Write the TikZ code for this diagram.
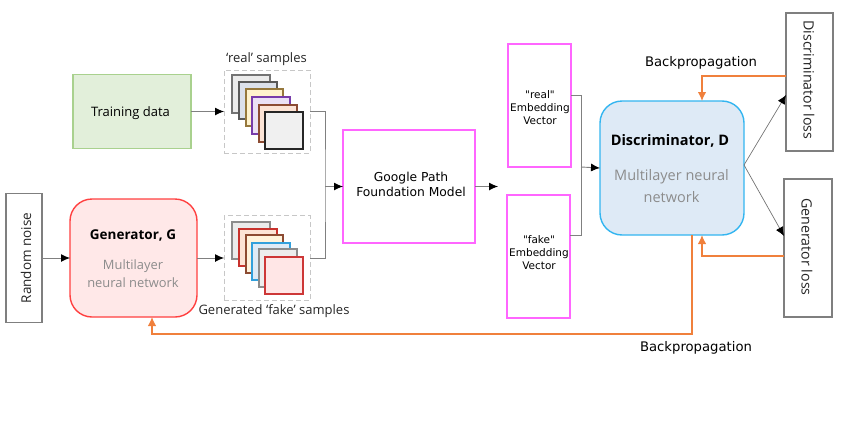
\documentclass[tikz,border=0pt]{standalone}
\usepackage{fontspec}
\setmainfont{Open Sans}
\newfontfamily\dejavu{DejaVu Sans}
\usetikzlibrary{arrows.meta}
\definecolor{orng}{HTML}{F0803C}
\definecolor{pinkb}{HTML}{FF66FF}
\definecolor{greyb}{HTML}{7F7F7F}
\definecolor{greytxt}{HTML}{8C8C8C}
\tikzset{
  box/.style={draw,outer sep=0pt,inner sep=0pt,anchor=center,align=center},
  lossbox/.style={box,draw=greyb,line width=1.4pt,fill=white,text=black!85},
  pinkbox/.style={box,draw=pinkb,line width=1.3pt,fill=white},
  netbox/.style={box,rounded corners=22pt,line width=1.4pt},
  frame/.style={box,draw=black!22,dash pattern=on 5pt off 3pt,line width=1pt},
  sheet/.style={box,line width=1.2pt},
  link/.style={draw=black!50,line width=0.9pt},
  arrowlink/.style={link,-{Latex[black,length=9pt,width=8pt]}},
  thinarrow/.style={draw=black!55,line width=0.7pt,-{Latex[black,length=9pt,width=8pt]}},
  back/.style={draw=orng,line width=1.3pt,-{Latex[orng,length=9pt,width=8.5pt]}},
  lbl/.style={inner sep=0pt,outer sep=0pt,font=\fontsize{13}{15}\selectfont},
  djl/.style={inner sep=0pt,outer sep=0pt,font=\dejavu\fontsize{12.3}{14.5}\selectfont,align=center},
  djb/.style={inner sep=0pt,outer sep=0pt,font=\dejavu\fontsize{13.2}{15}\selectfont},
  djs/.style={inner sep=0pt,outer sep=0pt,font=\dejavu\fontsize{10.5}{13}\selectfont,align=center},
}
\begin{document}
\begin{tikzpicture}[x=1pt,y=-1pt]
\useasboundingbox (0,0) rectangle (850,420);
% main boxes
\node[box,line width=1.2pt,draw={rgb,255:red,169;green,209;blue,142},fill={rgb,255:red,226;green,239;blue,218},minimum width=118pt,minimum height=74pt] (train) at (132,111.5) {};
\node[lbl] (traint) at (130.5,113) {Training data};
\node[lossbox,minimum width=36pt,minimum height=129pt] (noise) at (24,258) {};
\node[lbl,rotate=90,text=black!85,font=\fontsize{13.5}{15}\selectfont] (noiset) at (26,258) {Random noise};
\node[netbox,draw={rgb,255:red,255;green,64;blue,64},fill={rgb,255:red,255;green,232;blue,232},minimum width=127pt,minimum height=118pt] (gen) at (133.5,258) {};
\node[lbl,font=\bfseries\fontsize{13.5}{16}\selectfont] (gent) at (133,235) {Generator, G};
\node[lbl,text=greytxt,align=center,font=\fontsize{12.9}{18}\selectfont] (gens) at (133,273.5) {Multilayer\\neural network};
\node[frame,minimum width=86pt,minimum height=83pt] (rframe) at (267,111.5) {};
\node[frame,minimum width=86pt,minimum height=85pt] (fframe) at (267,258) {};
% real samples
\node[sheet,draw=black!55,fill=black!8,minimum width=38pt,minimum height=38pt] (r1) at (251,94) {};
\node[sheet,draw=black!65,fill={rgb,255:red,220;green,225;blue,235},minimum width=38pt,minimum height=37pt] (r2) at (258,100.5) {};
\node[sheet,draw={rgb,255:red,150;green,120;blue,60},fill={rgb,255:red,255;green,243;blue,205},minimum width=37pt,minimum height=37pt] (r3) at (264.5,107.5) {};
\node[sheet,draw={rgb,255:red,120;green,60;blue,170},fill={rgb,255:red,235;green,225;blue,245},minimum width=38pt,minimum height=37pt] (r4) at (271,115.5) {};
\node[sheet,draw={rgb,255:red,140;green,75;blue,50},fill={rgb,255:red,252;green,228;blue,214},minimum width=38pt,minimum height=37pt] (r5) at (278,123.5) {};
\node[sheet,draw=black!85,fill=black!6,minimum width=38pt,minimum height=37pt] (r6) at (284,130.5) {};
% fake samples
\node[sheet,draw=black!45,fill=black!8,minimum width=38pt,minimum height=37pt] (f1) at (251,240.5) {};
\node[sheet,draw={rgb,255:red,200;green,50;blue,45},fill={rgb,255:red,252;green,228;blue,214},minimum width=38pt,minimum height=37pt] (f2) at (258,247.5) {};
\node[sheet,draw={rgb,255:red,140;green,75;blue,50},fill={rgb,255:red,255;green,243;blue,220},minimum width=37pt,minimum height=38pt] (f3) at (264.5,254) {};
\node[sheet,draw={rgb,255:red,50;green,160;blue,220},fill={rgb,255:red,222;green,235;blue,247},minimum width=38pt,minimum height=37pt] (f4) at (271,261.5) {};
\node[sheet,draw=black!45,fill=black!7,minimum width=38pt,minimum height=38pt] (f5) at (278,268) {};
\node[sheet,draw={rgb,255:red,205;green,55;blue,55},fill={rgb,255:red,255;green,230;blue,230},minimum width=38pt,minimum height=37pt] (f6) at (284,275.5) {};
\node[lbl,text=black!85] (rlabel) at (266.5,59) {‘real’ samples};
\node[lbl,text=black!85] (flabel) at (274,311.5) {Generated ‘fake’ samples};
% model
\node[pinkbox,minimum width=132pt,minimum height=113pt] (google) at (409,186.5) {};
\node[djl] (googlet) at (411,184.5) {Google Path\\Foundation Model};
\node[pinkbox,minimum width=63pt,minimum height=123pt] (ereal) at (539.5,105.5) {};
\node[djs] (erealt) at (540,108) {"real"\\Embedding\\Vector};
\node[pinkbox,minimum width=63pt,minimum height=123pt] (efake) at (538.5,256.5) {};
\node[djs] (efaket) at (539,253) {"fake"\\Embedding\\Vector};
\node[netbox,draw={rgb,255:red,51;green,181;blue,240},fill={rgb,255:red,222;green,234;blue,246},minimum width=144pt,minimum height=134pt] (disc) at (672,168) {};
\node[lbl,font=\bfseries\fontsize{14.5}{17}\selectfont] (disct) at (670,141) {Discriminator, D};
\node[lbl,text=greytxt,align=center,font=\fontsize{14.5}{22}\selectfont] (discs) at (671.5,186) {Multilayer neural\\network};
\node[lossbox,minimum width=47pt,minimum height=138pt] (dloss) at (809.5,82) {};
\node[lbl,rotate=-90,text=black!85,font=\fontsize{14.2}{16}\selectfont] (dlosst) at (809,80) {Discriminator loss};
\node[lossbox,minimum width=48pt,minimum height=138pt] (gloss) at (808,248) {};
\node[lbl,rotate=-90,text=black!85,font=\fontsize{14.2}{16}\selectfont] (glosst) at (807,247) {Generator loss};
\node[djb] (bp1) at (701,63) {Backpropagation};
\node[djb] (bp2) at (696,347.5) {Backpropagation};
% junction points
\coordinate (mergeA) at (325,186.5);
\coordinate (mergeB) at (581,167);
\coordinate (dtop) at (702,101);
\coordinate (dbot) at (702,235);
\coordinate (dout) at (692,235);
\coordinate (ddl) at (786,76);
\coordinate (ggl) at (784,256);
\coordinate (genb) at (152,317);
\coordinate (low) at (692,334);
\coordinate (splt) at (744,165);
\coordinate (dlin) at (786,95);
\coordinate (glin) at (784,236);
\coordinate (realout) at (571,95);
\coordinate (fakeout) at (570,235);
\coordinate (gout) at (498,186.5);
% connectors
\draw[arrowlink] (noise.east) -- (gen.west);
\draw[arrowlink] (gen.east) -- (fframe.west);
\draw[arrowlink] (train.east) -- (rframe.west);
\draw[link] (rframe.east) -| (mergeA) |- (fframe.east);
\draw[arrowlink] (mergeA) -- (google.west);
\draw[arrowlink] (google.east) -- (gout);
\draw[link] (realout) -| (mergeB) |- (fakeout);
\draw[arrowlink] (mergeB) -- (disc.west);
\draw[thinarrow] (splt) -- (dlin);
\draw[thinarrow] (splt) -- (glin);
\draw[back] (ddl) -| (dtop);
\draw[back] (ggl) -| (dbot);
\draw[back] (dout) |- (low) -| (genb);
\end{tikzpicture}
\end{document}
